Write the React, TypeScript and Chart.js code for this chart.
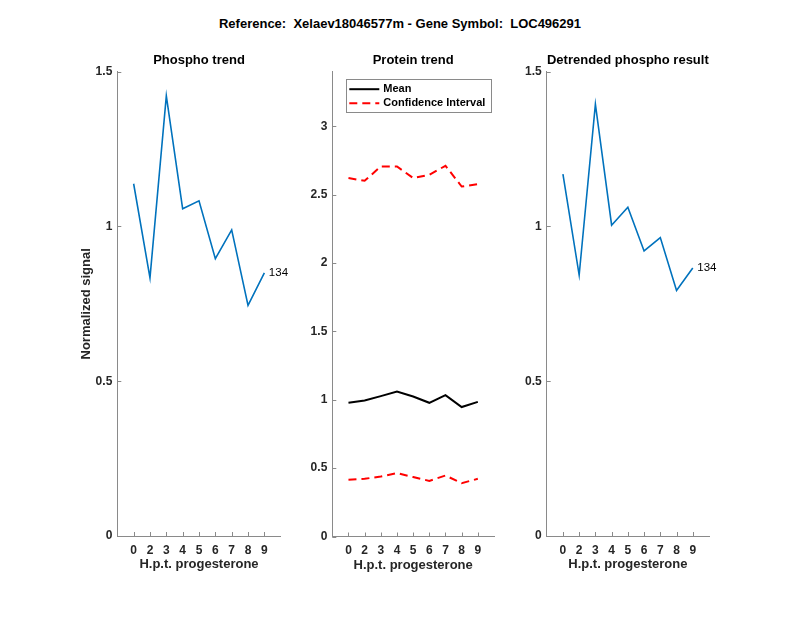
import React, { useEffect, useRef } from "react";
import { Chart, registerables } from "chart.js";

Chart.register(...registerables);

// ---- data ----
const hours = ["0", "2", "3", "4", "5", "6", "7", "8", "9"];
const phospho = [1.138, 0.834, 1.422, 1.057, 1.083, 0.896, 0.989, 0.745, 0.85];
const proteinMean = [0.978, 0.995, 1.027, 1.061, 1.024, 0.978, 1.034, 0.947, 0.985];
const proteinUpper = [2.622, 2.602, 2.707, 2.707, 2.622, 2.646, 2.712, 2.56, 2.578];
const proteinLower = [0.415, 0.422, 0.439, 0.464, 0.435, 0.407, 0.446, 0.39, 0.422];
const detrended = [1.169, 0.843, 1.395, 1.004, 1.062, 0.921, 0.964, 0.793, 0.866];
const peptideLabel = "134";
const signalTicks = [0, 0.5, 1, 1.5];
const proteinTicks = [0, 0.5, 1, 1.5, 2, 2.5, 3];
const suptitle = "Reference:  Xelaev18046577m - Gene Symbol:  LOC496291";

const FONT = '"Liberation Sans", Arial, Helvetica, sans-serif';
const AXIS_COLOR = "#8a8a8a";
const TEXT_COLOR = "#262626";
const BLUE = "#0072BD";

const W = 800;
const H = 618;
const Y_AXIS_W = 70;
const X_AXIS_H = 40;

type Area = { left: number; top: number; right: number; bottom: number };

type LegendItem = { label: string; color: string; dash: number[] };

type PanelProps = {
  area: Area;
  title: string;
  xTitle: string;
  yTitle?: string;
  yMax: number;
  yTicks: number[];
  datasets: any[];
  endLabel?: { text: string; value: number };
  legend?: LegendItem[];
};

const decorPlugin = {
  id: "decor",
  afterDraw(chart: any, _args: any, opts: any) {
    const { ctx, chartArea: a, scales } = chart;
    const xs = scales.x;
    const ys = scales.y;
    ctx.save();
    // inward tick marks
    ctx.strokeStyle = AXIS_COLOR;
    ctx.lineWidth = 1;
    xs.ticks.forEach((t: any) => {
      const px = Math.round(xs.getPixelForValue(t.value)) + 0.5;
      ctx.beginPath();
      ctx.moveTo(px, a.bottom);
      ctx.lineTo(px, a.bottom - 4);
      ctx.stroke();
    });
    ys.ticks.forEach((t: any) => {
      const py = Math.round(ys.getPixelForValue(t.value)) + 0.5;
      ctx.beginPath();
      ctx.moveTo(a.left, py);
      ctx.lineTo(a.left + 4, py);
      ctx.stroke();
    });

    const cx = (a.left + a.right) / 2;
    ctx.fillStyle = "#000";
    ctx.textAlign = "center";
    ctx.textBaseline = "middle";
    ctx.font = `bold 13px ${FONT}`;
    if (opts.title) ctx.fillText(opts.title, cx, a.top - 11);
    ctx.fillStyle = TEXT_COLOR;
    if (opts.xTitle) ctx.fillText(opts.xTitle, cx, a.bottom + 28.5);
    if (opts.yTitle) {
      ctx.save();
      ctx.translate(a.left - 30.5, (a.top + a.bottom) / 2);
      ctx.rotate(-Math.PI / 2);
      ctx.fillText(opts.yTitle, 0, 0);
      ctx.restore();
    }

    if (opts.endLabel) {
      const lastX = xs.getPixelForValue(hours.length);
      const py = ys.getPixelForValue(opts.endLabel.value);
      ctx.font = `11.5px ${FONT}`;
      ctx.fillStyle = "#000";
      ctx.textAlign = "left";
      ctx.fillText(opts.endLabel.text, lastX + 4.5, py);
    }

    if (opts.legend) {
      ctx.font = `bold 11px ${FONT}`;
      const items: LegendItem[] = opts.legend;
      const textW = Math.max(...items.map((it) => ctx.measureText(it.label).width));
      const bx = a.left + 13.5;
      const by = a.top + 7.5;
      const bw = 38 + textW + 5;
      const bh = 32.5;
      ctx.fillStyle = "#fff";
      ctx.fillRect(bx, by, bw, bh);
      ctx.strokeStyle = AXIS_COLOR;
      ctx.lineWidth = 1;
      ctx.strokeRect(Math.round(bx) + 0.5, Math.round(by) + 0.5, Math.round(bw), Math.round(bh));
      items.forEach((it, i) => {
        const yy = by + 10 + i * 14;
        ctx.strokeStyle = it.color;
        ctx.lineWidth = 2;
        ctx.setLineDash(it.dash);
        ctx.beginPath();
        ctx.moveTo(bx + 3.5, yy);
        ctx.lineTo(bx + 33.5, yy);
        ctx.stroke();
        ctx.setLineDash([]);
        ctx.fillStyle = "#000";
        ctx.textAlign = "left";
        ctx.fillText(it.label, bx + 37.5, yy);
      });
    }
    ctx.restore();
  },
};

function Panel(props: PanelProps) {
  const ref = useRef<HTMLCanvasElement | null>(null);
  const { area } = props;
  const canvasLeft = Math.floor(area.left) - 80;
  const cw = Math.ceil(area.right - canvasLeft) + 50;
  const padLeft = area.left - canvasLeft - Y_AXIS_W;
  const padRight = cw - (area.right - canvasLeft);
  const padTop = area.top;
  const padBottom = H - area.bottom - X_AXIS_H;

  useEffect(() => {
    if (!ref.current) return;
    const chart = new Chart(ref.current, {
      type: "line",
      data: { datasets: props.datasets },
      options: {
        animation: false,
        responsive: false,
        maintainAspectRatio: false,
        layout: { padding: { left: padLeft, right: padRight, top: padTop, bottom: padBottom } },
        plugins: {
          legend: { display: false },
          tooltip: { enabled: false },
          title: { display: false },
          decor: {
            title: props.title,
            xTitle: props.xTitle,
            yTitle: props.yTitle,
            endLabel: props.endLabel,
            legend: props.legend,
          },
        } as any,
        scales: {
          x: {
            type: "linear",
            min: 0,
            max: hours.length + 1,
            grid: { display: false, drawTicks: false },
            border: { display: true, color: AXIS_COLOR, width: 1 },
            afterBuildTicks: (scale: any) => {
              scale.ticks = hours.map((_, i) => ({ value: i + 1 }));
            },
            afterFit: (scale: any) => {
              scale.height = X_AXIS_H;
            },
            ticks: {
              autoSkip: false,
              maxRotation: 0,
              padding: 7,
              color: TEXT_COLOR,
              font: { family: FONT, size: 12, weight: "bold" },
              callback: (v: any) => hours[Number(v) - 1] ?? "",
            },
          },
          y: {
            type: "linear",
            min: 0,
            max: props.yMax,
            grid: { display: false, drawTicks: false },
            border: { display: true, color: AXIS_COLOR, width: 1 },
            afterBuildTicks: (scale: any) => {
              scale.ticks = props.yTicks.map((v) => ({ value: v }));
            },
            afterFit: (scale: any) => {
              scale.width = Y_AXIS_W;
            },
            ticks: {
              padding: 5,
              color: TEXT_COLOR,
              font: { family: FONT, size: 12, weight: "bold" },
              callback: (v: any) => String(v),
            },
          },
        },
      },
      plugins: [decorPlugin],
    });
    return () => chart.destroy();
  }, []);

  return (
    <canvas
      ref={ref}
      width={cw}
      height={H}
      style={{ position: "absolute", left: canvasLeft, top: 0, width: cw, height: H }}
    />
  );
}

const toPoints = (vals: number[]) => vals.map((v, i) => ({ x: i + 1, y: v }));

export default function App() {
  const blueLine = (vals: number[]) => ({
    label: "phospho",
    data: toPoints(vals),
    borderColor: BLUE,
    borderWidth: 1.6,
    pointRadius: 0,
    tension: 0,
    fill: false,
  });

  const ciDash = [8, 5];

  return (
    <div style={{ position: "absolute", left: 0, top: 0, width: W, height: H, background: "#fff", overflow: "hidden" }}>
      <div
        style={{
          position: "absolute",
          left: 0,
          top: 16,
          width: W,
          lineHeight: "16px",
          textAlign: "center",
          whiteSpace: "pre",
          fontFamily: FONT,
          fontWeight: "bold",
          fontSize: 13,
          color: "#000",
        }}
      >
        {suptitle}
      </div>
      <Panel
        area={{ left: 117.3, top: 71.7, right: 280.7, bottom: 536 }}
        title="Phospho trend"
        xTitle="H.p.t. progesterone"
        yTitle="Normalized signal"
        yMax={1.5}
        yTicks={signalTicks}
        datasets={[blueLine(phospho)]}
        endLabel={{ text: peptideLabel, value: phospho[phospho.length - 1] }}
      />
      <Panel
        area={{ left: 332.3, top: 71.7, right: 494, bottom: 536.5 }}
        title="Protein trend"
        xTitle="H.p.t. progesterone"
        yMax={3.4}
        yTicks={proteinTicks}
        datasets={[
          {
            label: "Mean",
            data: toPoints(proteinMean),
            borderColor: "#000",
            borderWidth: 2,
            pointRadius: 0,
            tension: 0,
          },
          {
            label: "Confidence Interval",
            data: toPoints(proteinUpper),
            borderColor: "#ff0000",
            borderWidth: 2,
            borderDash: ciDash,
            pointRadius: 0,
            tension: 0,
          },
          {
            label: "Confidence Interval (lower)",
            data: toPoints(proteinLower),
            borderColor: "#ff0000",
            borderWidth: 2,
            borderDash: ciDash,
            pointRadius: 0,
            tension: 0,
          },
        ]}
        legend={[
          { label: "Mean", color: "#000", dash: [] },
          { label: "Confidence Interval", color: "#ff0000", dash: ciDash },
        ]}
      />
      <Panel
        area={{ left: 546.7, top: 71.7, right: 709, bottom: 536 }}
        title="Detrended phospho result"
        xTitle="H.p.t. progesterone"
        yMax={1.5}
        yTicks={signalTicks}
        datasets={[blueLine(detrended)]}
        endLabel={{ text: peptideLabel, value: detrended[detrended.length - 1] }}
      />
    </div>
  );
}
